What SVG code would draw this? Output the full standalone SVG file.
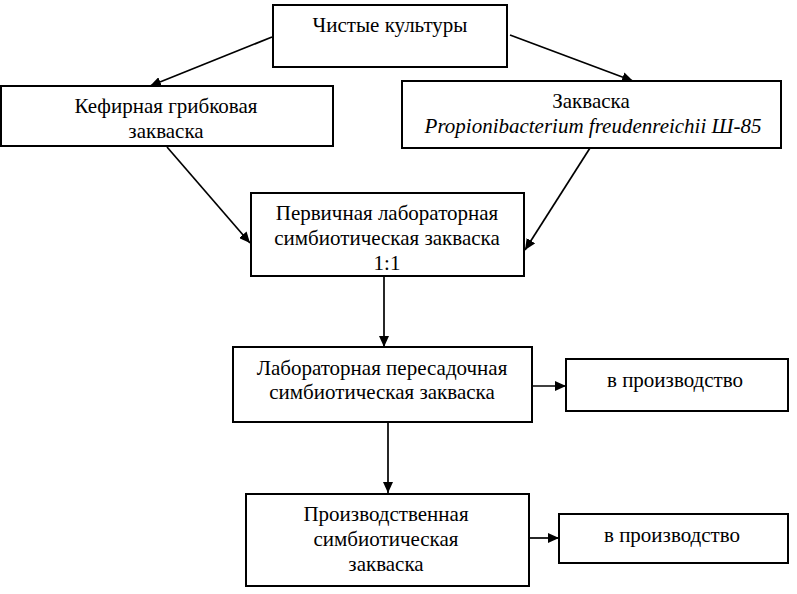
<svg xmlns="http://www.w3.org/2000/svg" width="797" height="594" viewBox="0 0 797 594">
<defs>
<marker id="ah" markerUnits="userSpaceOnUse" markerWidth="12" markerHeight="10" refX="11" refY="5" orient="auto">
<path d="M0,0 L11,5 L0,10 z" fill="#000"/>
</marker>
</defs>
<rect width="797" height="594" fill="#fff"/>
<g id="connectors" stroke="#000" stroke-width="1.7" fill="none" marker-end="url(#ah)">
<line x1="272" y1="37" x2="150" y2="86"/>
<line x1="510" y1="35" x2="633" y2="81"/>
<line x1="167" y1="147" x2="250" y2="243"/>
<line x1="590" y1="148" x2="525" y2="250"/>
<line x1="384" y1="276" x2="384" y2="347"/>
<line x1="388" y1="422" x2="388" y2="493"/>
<line x1="532" y1="386" x2="566" y2="386"/>
<line x1="529" y1="538" x2="559" y2="538"/>
</g>
<g id="n1">
<rect x="273" y="5" width="234" height="62" fill="#fff" stroke="#000" stroke-width="2"/>
<text x="390" y="32" font-family="Liberation Serif" font-size="21" text-anchor="middle">Чистые культуры</text>
</g>
<g id="n2">
<rect x="1" y="86" width="332" height="60" fill="#fff" stroke="#000" stroke-width="2"/>
<text x="166" y="113" font-family="Liberation Serif" font-size="21" text-anchor="middle">Кефирная грибковая</text>
<text x="166" y="138" font-family="Liberation Serif" font-size="21" text-anchor="middle">закваска</text>
</g>
<g id="n3">
<rect x="402" y="81" width="379" height="67" fill="#fff" stroke="#000" stroke-width="2"/>
<text x="591" y="108" font-family="Liberation Serif" font-size="21" text-anchor="middle">Закваска</text>
<text x="593" y="133" font-family="Liberation Serif" font-size="21" text-anchor="middle" font-style="italic">Propionibacterium freudenreichii Ш-85</text>
</g>
<g id="n4">
<rect x="251" y="193" width="273" height="83" fill="#fff" stroke="#000" stroke-width="2"/>
<text x="387" y="220" font-family="Liberation Serif" font-size="21" text-anchor="middle">Первичная лабораторная</text>
<text x="387" y="245" font-family="Liberation Serif" font-size="21" text-anchor="middle">симбиотическая закваска</text>
<text x="387" y="270" font-family="Liberation Serif" font-size="21" text-anchor="middle">1:1</text>
</g>
<g id="n5">
<rect x="233" y="347" width="299" height="75" fill="#fff" stroke="#000" stroke-width="2"/>
<text x="382" y="375" font-family="Liberation Serif" font-size="21" text-anchor="middle">Лабораторная пересадочная</text>
<text x="382" y="399" font-family="Liberation Serif" font-size="21" text-anchor="middle">симбиотическая закваска</text>
</g>
<g id="n6">
<rect x="566" y="359" width="222" height="52" fill="#fff" stroke="#000" stroke-width="2"/>
<text x="675" y="387" font-family="Liberation Serif" font-size="21" text-anchor="middle">в производство</text>
</g>
<g id="n7">
<rect x="246" y="494" width="283" height="92" fill="#fff" stroke="#000" stroke-width="2"/>
<text x="386" y="521" font-family="Liberation Serif" font-size="21" text-anchor="middle">Производственная</text>
<text x="386" y="546" font-family="Liberation Serif" font-size="21" text-anchor="middle">симбиотическая</text>
<text x="386" y="571" font-family="Liberation Serif" font-size="21" text-anchor="middle">закваска</text>
</g>
<g id="n8">
<rect x="559" y="514" width="229" height="49" fill="#fff" stroke="#000" stroke-width="2"/>
<text x="672" y="542" font-family="Liberation Serif" font-size="21" text-anchor="middle">в производство</text>
</g>
</svg>
